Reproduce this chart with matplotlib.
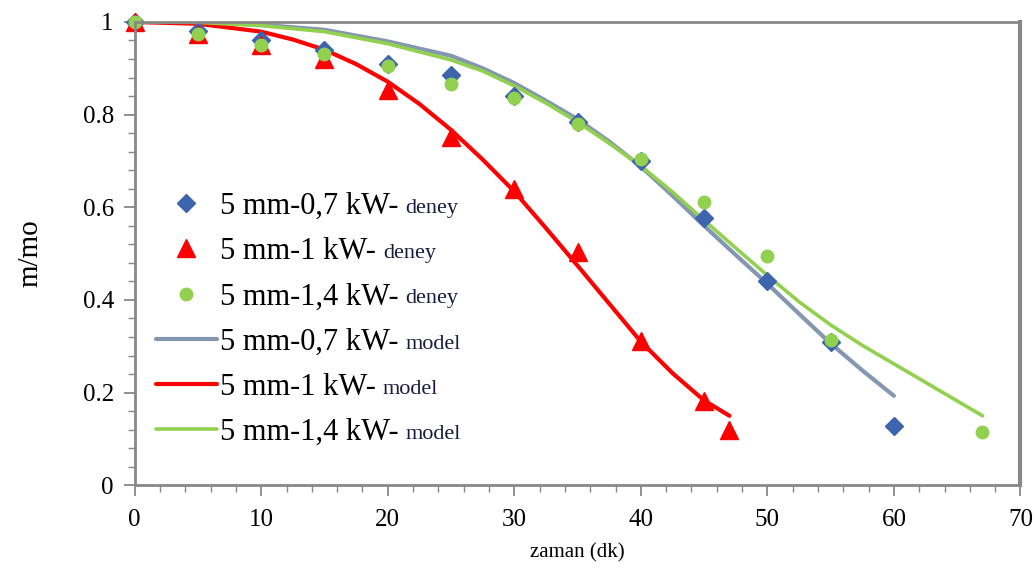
import matplotlib
matplotlib.use("Agg")
import matplotlib.pyplot as plt
from matplotlib.ticker import MultipleLocator

plt.rcParams["font.family"] = ["Liberation Serif", "DejaVu Serif"]

# experimental points (deney)
t_07 = [0, 5, 10, 15, 20, 25, 30, 35, 40, 45, 50, 55, 60]
m_07 = [1.0, 0.98, 0.96, 0.94, 0.91, 0.885, 0.84, 0.785, 0.70, 0.577, 0.44, 0.31, 0.128]

t_10 = [0, 5, 10, 15, 20, 25, 30, 35, 40, 45, 47]
m_10 = [1.0, 0.975, 0.95, 0.92, 0.852, 0.752, 0.64, 0.503, 0.311, 0.182, 0.12]

t_14 = [0, 5, 10, 15, 20, 25, 30, 35, 40, 45, 50, 55, 67]
m_14 = [1.0, 0.975, 0.95, 0.93, 0.905, 0.865, 0.835, 0.78, 0.705, 0.612, 0.495, 0.313, 0.115]

# model curves
tm_07 = [0, 5, 10, 15, 20, 25, 27.5, 30, 32.5, 35, 37.5, 40, 42.5, 45,
         47.5, 50, 52.5, 55, 57.5, 60]
mm_07 = [1.0, 0.999, 0.994, 0.983, 0.958, 0.927, 0.90, 0.868, 0.83, 0.79,
         0.742, 0.688, 0.625, 0.56, 0.497, 0.435, 0.37, 0.306, 0.248, 0.193]

tm_10 = [0, 5, 10, 12.5, 15, 17.5, 20, 22.5, 25, 27.5, 30, 32.5, 35, 37.5,
         40, 42.5, 45, 47]
mm_10 = [1.0, 0.996, 0.979, 0.962, 0.94, 0.909, 0.871, 0.823, 0.767, 0.703,
         0.634, 0.555, 0.474, 0.392, 0.31, 0.242, 0.183, 0.15]

tm_14 = [0, 5, 10, 15, 20, 25, 27.5, 30, 32.5, 35, 37.5, 40, 42.5, 45,
         47.5, 50, 52.5, 55, 57.5, 60, 63, 67]
mm_14 = [1.0, 0.999, 0.992, 0.979, 0.953, 0.918, 0.894, 0.862, 0.825, 0.784,
         0.738, 0.689, 0.633, 0.572, 0.512, 0.453, 0.396, 0.346, 0.302, 0.262,
         0.214, 0.15]

labels = ["5 mm-0,7 kW-", "5 mm-1 kW-", "5 mm-1,4 kW-",
          "5 mm-0,7 kW-", "5 mm-1 kW-", "5 mm-1,4 kW-"]
suffixes = ["deney", "deney", "deney", "model", "model", "model"]

blue = "#3D65AE"
red = "#FF0000"
green = "#92D050"
gray = "#8497B0"
frame = "#888888"

fig = plt.figure(figsize=(10.36, 5.77), dpi=100)
ax = fig.add_axes([0.130, 0.159, 0.855, 0.803])

h4, = ax.plot(tm_07, mm_07, color=gray, lw=3, zorder=1,
              solid_joinstyle="round", solid_capstyle="round")
h5, = ax.plot(tm_10, mm_10, color=red, lw=3, zorder=1,
              solid_joinstyle="round", solid_capstyle="round")
h6, = ax.plot(tm_14, mm_14, color=green, lw=2.6, zorder=1,
              solid_joinstyle="round", solid_capstyle="round")
h1, = ax.plot(t_07, m_07, "D", color=blue, ms=9, ls="none", clip_on=False)
h2, = ax.plot(t_10, m_10, "^", color=red, ms=13, ls="none", clip_on=False)
h3, = ax.plot(t_14, m_14, "o", color=green, ms=9, ls="none", clip_on=False)

ax.set_xlim(0, 70)
ax.set_ylim(0, 1)
ax.xaxis.set_major_locator(MultipleLocator(10))
ax.xaxis.set_minor_locator(MultipleLocator(2))
ax.set_yticks([0, 0.2, 0.4, 0.6, 0.8, 1.0])
ax.set_yticklabels(["0", "0.2", "0.4", "0.6", "0.8", "1"])
ax.yaxis.set_minor_locator(MultipleLocator(0.04))
ax.tick_params(which="both", direction="out", colors=frame,
               labelcolor="black", labelsize=18)
ax.tick_params(which="major", length=8, width=1.3)
ax.tick_params(which="minor", length=5, width=1.0)
ax.tick_params(axis="x", which="major", pad=9)
ax.tick_params(axis="y", which="major", pad=7)
for side in ["left", "bottom", "top"]:
    ax.spines[side].set_color(frame)
    ax.spines[side].set_linewidth(2)
ax.spines["right"].set_color(frame)
ax.spines["right"].set_linewidth(3)

ax.set_xlabel("zaman (dk)", fontsize=15, labelpad=9)
ax.set_ylabel("m/mo", fontsize=21, labelpad=28)

leg = ax.legend([h1, h2, h3, h4, h5, h6], labels, loc="upper left",
                bbox_to_anchor=(0.024, 0.633), frameon=False, fontsize=22,
                labelspacing=0.53, handlelength=2.0, handletextpad=0.1,
                borderaxespad=0, borderpad=0)

# smaller suffix words after each legend label
fig.canvas.draw()
renderer = fig.canvas.get_renderer()
inv = fig.transFigure.inverted()
for txt, suf in zip(leg.get_texts(), suffixes):
    bb = txt.get_window_extent(renderer)
    x0, y0 = inv.transform((bb.x1 + 7, bb.y0 + 8))
    fig.text(x0, y0, suf, fontsize=16, ha="left", va="baseline",
             color="#1a1a40")

fig.savefig("out.png", dpi=100)
